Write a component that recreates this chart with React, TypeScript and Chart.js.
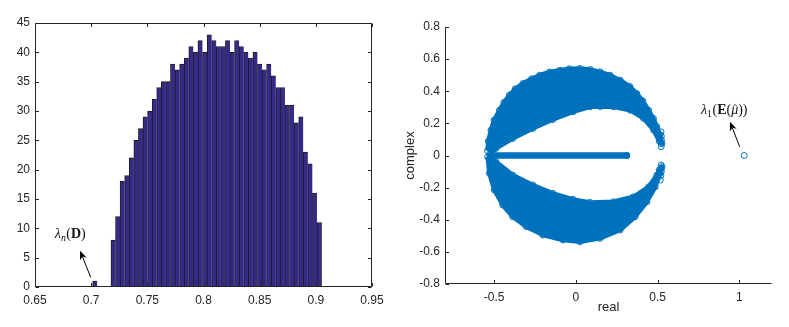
import React, { useEffect, useRef } from "react";
import { Chart, registerables } from "chart.js";

Chart.register(...registerables);

// ---------------- Left panel: histogram of eigenvalues of D ----------------
const histBinStart = 0.7013;
const histBinWidth = 0.004076;
const histCounts = [
  1, 0, 0, 0, 8, 12, 18, 19, 22, 25, 27, 29, 30, 32, 34, 35, 35, 38, 37, 38,
  39, 41, 40, 42, 40, 43, 42, 41, 41, 42, 40, 42, 41, 40, 39, 40, 38, 37, 38, 36,
  34, 34, 31, 31, 28, 29, 23, 21, 16, 11,
];
const histXTicks = [0.65, 0.7, 0.75, 0.8, 0.85, 0.9, 0.95];
const histYTicks = [0, 5, 10, 15, 20, 25, 30, 35, 40, 45];

// ---------------- Right panel: eigenvalues of E(mu-hat) in complex plane ----------------
const eigXTicks = [-0.5, 0, 0.5, 1];
const eigYTicks = [-0.8, -0.6, -0.4, -0.2, 0, 0.2, 0.4, 0.6, 0.8];

// upper band: outer edge (left -> right)
const upperOuterX = [-0.54, -0.535, -0.519, -0.5, -0.467, -0.44, -0.406, -0.37, -0.324, -0.27, -0.221, -0.16, -0.098, -0.04, 0.025, 0.09, 0.148, 0.21, 0.271, 0.33, 0.373, 0.41, 0.445, 0.475, 0.496, 0.515, 0.527];
const upperOuterY = [0.03, 0.09, 0.158, 0.22, 0.282, 0.33, 0.376, 0.415, 0.448, 0.478, 0.5, 0.52, 0.531, 0.54, 0.542, 0.535, 0.521, 0.5, 0.469, 0.43, 0.386, 0.34, 0.282, 0.23, 0.179, 0.13, 0.075];
// upper band: inner edge (right -> left)
const upperInnerX = [0.51, 0.476, 0.414, 0.332, 0.23, 0.15, 0.086, -0.017, -0.14, -0.263, -0.386, -0.488, -0.525];
const upperInnerY = [0.09, 0.158, 0.231, 0.282, 0.303, 0.305, 0.303, 0.272, 0.224, 0.168, 0.106, 0.044, 0.012];
// lower band: outer edge (left -> right)
const lowerOuterX = [-0.539, -0.529, -0.498, -0.447, -0.386, -0.303, -0.201, -0.078, 0.025, 0.148, 0.271, 0.363, 0.435, 0.486, 0.517, 0.527];
const lowerOuterY = [-0.008, -0.111, -0.215, -0.308, -0.381, -0.443, -0.495, -0.526, -0.537, -0.516, -0.464, -0.381, -0.288, -0.195, -0.111, -0.07];
// lower band: inner edge (right -> left)
const lowerInnerX = [0.51, 0.496, 0.445, 0.353, 0.23, 0.086, -0.017, -0.14, -0.263, -0.386, -0.488, -0.525];
const lowerInnerY = [-0.09, -0.122, -0.195, -0.257, -0.288, -0.292, -0.273, -0.236, -0.184, -0.122, -0.039, -0.012];
// isolated eigenvalues at the right tips of the bands
const tipX = [0.521, 0.523, 0.524, 0.523, 0.522, 0.522, 0.524, 0.523, 0.52, 0.517];
const tipY = [0.147, 0.12, 0.095, 0.075, 0.055, -0.06, -0.08, -0.1, -0.125, -0.153];
// real eigenvalues lying on the real axis
const realSegX = [-0.525, 0.312];
const realSegY = [0, 0];
// leading eigenvalue
const leadX = [1.03];
const leadY = [0];

const AXIS_COLOR = "#262626";
const TICK_FONT = { family: "'Liberation Sans', Arial, Helvetica, sans-serif", size: 12 };
const TITLE_FONT = { family: "'Liberation Sans', Arial, Helvetica, sans-serif", size: 13 };
const MATH_FAMILY = "'Liberation Serif', 'DejaVu Serif', serif";
const BLUE = "#0072BD";

type Seg = { t: string; italic?: boolean; bold?: boolean; sub?: boolean; hat?: boolean };

function drawMath(ctx: CanvasRenderingContext2D, segs: Seg[], cx: number, cy: number, size: number) {
  const fontFor = (s: Seg) =>
    `${s.italic ? "italic " : ""}${s.bold ? "bold " : ""}${s.sub ? size * 0.7 : size}px ${MATH_FAMILY}`;
  const widths: number[] = [];
  let total = 0;
  for (const s of segs) {
    ctx.font = fontFor(s);
    const w = ctx.measureText(s.t).width + (s.sub ? 0.5 : 0);
    widths.push(w);
    total += w;
  }
  let x = cx - total / 2;
  const base = cy + size * 0.33;
  ctx.save();
  ctx.fillStyle = "#111";
  ctx.textBaseline = "alphabetic";
  ctx.textAlign = "left";
  segs.forEach((s, i) => {
    ctx.font = fontFor(s);
    const y = base + (s.sub ? size * 0.22 : 0);
    ctx.fillText(s.t, x, y);
    if (s.hat) {
      const mx = x + widths[i] / 2 + 0.5;
      const hy = base - size * 0.62;
      ctx.strokeStyle = "#111";
      ctx.lineWidth = 0.8;
      ctx.beginPath();
      ctx.moveTo(mx - 2.2, hy + 1.6);
      ctx.lineTo(mx, hy - 0.4);
      ctx.lineTo(mx + 2.2, hy + 1.6);
      ctx.stroke();
    }
    x += widths[i];
  });
  ctx.restore();
}

function drawArrow(ctx: CanvasRenderingContext2D, x1: number, y1: number, x2: number, y2: number) {
  const ang = Math.atan2(y2 - y1, x2 - x1);
  const len = 9;
  const hw = 3.6;
  const c = Math.cos(ang);
  const s = Math.sin(ang);
  ctx.save();
  ctx.strokeStyle = "#000";
  ctx.fillStyle = "#000";
  ctx.lineWidth = 1;
  ctx.beginPath();
  ctx.moveTo(x1, y1);
  ctx.lineTo(x2 - c * len * 0.7, y2 - s * len * 0.7);
  ctx.stroke();
  ctx.beginPath();
  ctx.moveTo(x2, y2);
  ctx.lineTo(x2 - len * c + hw * s, y2 - len * s - hw * c);
  ctx.lineTo(x2 - len * 0.7 * c, y2 - len * 0.7 * s);
  ctx.lineTo(x2 - len * c - hw * s, y2 - len * s + hw * c);
  ctx.closePath();
  ctx.fill();
  ctx.restore();
}

function matlabAxes(box: boolean) {
  return {
    id: "matlabAxes",
    afterDraw(chart: any) {
      const { ctx, chartArea: a, scales } = chart;
      const L = Math.round(a.left) + 0.5;
      const R = Math.round(a.right) - 0.5;
      const T = Math.round(a.top) + 0.5;
      const B = Math.round(a.bottom) - 0.5;
      const tl = 3.5;
      ctx.save();
      ctx.strokeStyle = AXIS_COLOR;
      ctx.lineWidth = 1;
      ctx.beginPath();
      ctx.moveTo(L, B);
      ctx.lineTo(R, B);
      ctx.moveTo(L, B);
      ctx.lineTo(L, T);
      if (box) {
        ctx.moveTo(L, T);
        ctx.lineTo(R, T);
        ctx.moveTo(R, T);
        ctx.lineTo(R, B);
      }
      for (const t of scales.x.ticks) {
        const px = Math.round(scales.x.getPixelForValue(t.value)) + 0.5;
        ctx.moveTo(px, B);
        ctx.lineTo(px, B - tl);
        if (box) {
          ctx.moveTo(px, T);
          ctx.lineTo(px, T + tl);
        }
      }
      for (const t of scales.y.ticks) {
        const py = Math.round(scales.y.getPixelForValue(t.value)) + 0.5;
        ctx.moveTo(L, py);
        ctx.lineTo(L + tl, py);
        if (box) {
          ctx.moveTo(R, py);
          ctx.lineTo(R - tl, py);
        }
      }
      ctx.stroke();
      ctx.restore();
    },
  };
}

const zip = (xs: number[], ys: number[]) => xs.map((x, i) => ({ x, y: ys[i] }));

function scaleCommon(ticks: number[], fit: (s: any) => void, title?: any) {
  return {
    type: "linear" as const,
    min: Math.min(...ticks),
    max: Math.max(...ticks),
    afterBuildTicks: (s: any) => {
      s.ticks = ticks.map((v) => ({ value: v }));
    },
    afterFit: fit,
    grid: { display: false, drawTicks: false },
    border: { display: false },
    ticks: {
      color: AXIS_COLOR,
      font: TICK_FONT,
      autoSkip: false,
      maxRotation: 0,
      padding: 5,
      callback: (v: any) => String(v),
    },
    title: title || { display: false },
  };
}

function HistPanel() {
  const ref = useRef<HTMLCanvasElement | null>(null);
  useEffect(() => {
    if (!ref.current) return;
    const last = histCounts.length - 1;
    const annot = {
      id: "histAnnot",
      afterDraw(chart: any) {
        const { ctx, scales } = chart;
        const X = (v: number) => scales.x.getPixelForValue(v);
        const Y = (v: number) => scales.y.getPixelForValue(v);
        drawArrow(ctx, X(0.6996), Y(1.65), X(0.6901), Y(6.19));
        drawMath(ctx, [{ t: "λ", italic: true }, { t: "n", italic: true, sub: true }, { t: "(" }, { t: "D", bold: true }, { t: ")" }], X(0.6814), Y(9.15), 14);
      },
    };
    const xs = scaleCommon(histXTicks, (s: any) => { s.height = 40; });
    xs.ticks.padding = 6;
    const chart = new Chart(ref.current, {
      type: "bar",
      data: {
        datasets: [
          {
            data: histCounts.map((c, i) => ({ x: histBinStart + (i + 0.5) * histBinWidth, y: c })) as any,
            backgroundColor: "#352A87",
            borderColor: "#1e1e1e",
            borderWidth: ((ctx: any) =>
              ctx.dataIndex === last ? { top: 1, left: 1, right: 1, bottom: 0 } : { top: 1, left: 1, right: 0, bottom: 0 }) as any,
            borderSkipped: false,
            barPercentage: 1,
            categoryPercentage: 1,
          },
        ],
      },
      options: {
        responsive: false,
        animation: false,
        devicePixelRatio: 1,
        layout: { padding: { left: 0, top: 23, right: 18, bottom: 0 } },
        plugins: { legend: { display: false }, tooltip: { enabled: false } },
        scales: {
          x: { ...xs, offset: false } as any,
          y: scaleCommon(histYTicks, (s: any) => { s.width = 35; }) as any,
        },
      },
      plugins: [matlabAxes(true), annot],
    });
    return () => chart.destroy();
  }, []);
  return <canvas ref={ref} width={390} height={327} style={{ position: "absolute", left: 0, top: 0 }} />;
}

function EigPanel() {
  const ref = useRef<HTMLCanvasElement | null>(null);
  useEffect(() => {
    if (!ref.current) return;
    const annot = {
      id: "eigAnnot",
      afterDraw(chart: any) {
        const { ctx, scales } = chart;
        const X = (v: number) => scales.x.getPixelForValue(v);
        const Y = (v: number) => scales.y.getPixelForValue(v);
        drawArrow(ctx, X(1.0025), Y(0.054), X(0.943), Y(0.21));
        drawMath(
          ctx,
          [
            { t: "λ", italic: true },
            { t: "1", sub: true },
            { t: "(" },
            { t: "E", bold: true },
            { t: "(" },
            { t: "μ", italic: true, hat: true },
            { t: ")" },
            { t: ")" },
          ],
          X(0.908),
          Y(0.29),
          14
        );
      },
    };
    const band = (pts: any[]) => ({
      data: pts,
      showLine: true,
      fill: "shape",
      backgroundColor: BLUE,
      borderColor: BLUE,
      borderWidth: 4.5,
      borderJoinStyle: "round",
      pointRadius: 3,
      pointBorderWidth: 1,
      pointBorderColor: BLUE,
      pointBackgroundColor: "rgba(255,255,255,0)",
    });
    const markers = (pts: any[]) => ({
      data: pts,
      showLine: false,
      pointRadius: 3,
      pointBorderWidth: 1,
      pointBorderColor: BLUE,
      pointBackgroundColor: "rgba(255,255,255,0)",
    });
    const xs = scaleCommon(eigXTicks, (s: any) => { s.height = 43; }, {
      display: true,
      text: "real",
      color: AXIS_COLOR,
      font: TITLE_FONT,
      padding: { top: 0, bottom: 12 },
    });
    xs.min = -0.8;
    xs.max = 1.2;
    xs.ticks.padding = 6;
    const chart = new Chart(ref.current, {
      type: "scatter",
      data: {
        datasets: [
          band([...zip(upperOuterX, upperOuterY), ...zip(upperInnerX, upperInnerY)]),
          band([...zip(lowerOuterX, lowerOuterY), ...zip(lowerInnerX, lowerInnerY)]),
          {
            data: zip(realSegX, realSegY),
            showLine: true,
            borderColor: BLUE,
            borderWidth: 6.5,
            borderCapStyle: "round",
            pointRadius: 3,
            pointBorderWidth: 1,
            pointBorderColor: BLUE,
            pointBackgroundColor: BLUE,
          },
          markers(zip(tipX, tipY)),
          markers(zip(leadX, leadY)),
        ] as any,
      },
      options: {
        responsive: false,
        animation: false,
        devicePixelRatio: 1,
        layout: { padding: { left: 0, top: 27, right: 17, bottom: 0 } },
        plugins: { legend: { display: false }, tooltip: { enabled: false } },
        scales: {
          x: xs as any,
          y: scaleCommon(eigYTicks, (s: any) => { s.width = 55; }, {
            display: true,
            text: "complex",
            color: AXIS_COLOR,
            font: TITLE_FONT,
            padding: { top: 12.7, bottom: 0 },
          }) as any,
        },
      },
      plugins: [matlabAxes(false), annot],
    });
    return () => chart.destroy();
  }, []);
  return <canvas ref={ref} width={399} height={327} style={{ position: "absolute", left: 390, top: 0 }} />;
}

export default function App() {
  return (
    <div style={{ position: "absolute", left: 0, top: 0, width: 789, height: 327, background: "#fff", overflow: "hidden" }}>
      <HistPanel />
      <EigPanel />
    </div>
  );
}
